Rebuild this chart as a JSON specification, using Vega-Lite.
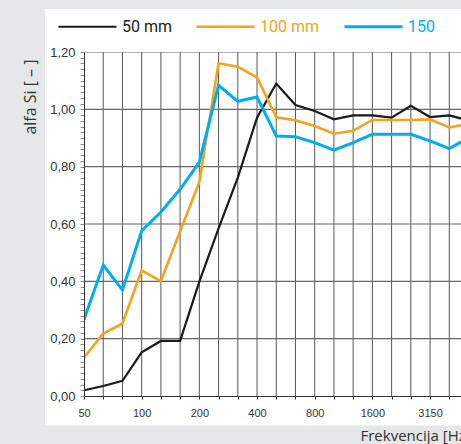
{
  "$schema": "https://vega.github.io/schema/vega-lite/v6.json",
  "width": 377,
  "height": 344,
  "autosize": {"type": "none"},
  "padding": {"left": 84, "top": 52, "right": 0, "bottom": 48},
  "background": "#e6e7e8",
  "config": {
    "view": {"stroke": null},
    "axisX": {
      "grid": false,
      "domainColor": "#333333",
      "tickColor": "#333333",
      "tickSize": 3,
      "labelFont": "Liberation Sans",
      "labelFontSize": 11,
      "labelColor": "#333333",
      "labelPadding": 8,
      "labelFlush": false,
      "titleFont": "Open Sans",
      "titleFontSize": 15,
      "titleFontWeight": "normal",
      "titleColor": "#333333",
      "titleAnchor": "start",
      "titleAlign": "left",
      "titleX": 276,
      "titleY": 39,
      "titleBaseline": "middle"
    },
    "axisY": {
      "grid": false,
      "domainColor": "#333333",
      "tickColor": "#888888",
      "tickSize": 4,
      "labelFont": "Liberation Sans",
      "labelFontSize": 13,
      "labelColor": "#333333",
      "labelPadding": 5,
      "labelFlush": false,
      "titleFont": "Open Sans",
      "titleFontSize": 16,
      "titleFontWeight": "normal",
      "titleColor": "#333333",
      "titleAngle": -90,
      "titleAlign": "right",
      "titleBaseline": "middle",
      "titleX": -54,
      "titleY": 7
    }
  },
  "datasets": {
    "series": [
      {"i": 0, "band": "50", "thickness": "50 mm", "alfa": 0.02},
      {"i": 1, "band": "63", "thickness": "50 mm", "alfa": 0.035},
      {"i": 2, "band": "80", "thickness": "50 mm", "alfa": 0.053},
      {"i": 3, "band": "100", "thickness": "50 mm", "alfa": 0.152},
      {"i": 4, "band": "125", "thickness": "50 mm", "alfa": 0.192},
      {"i": 5, "band": "160", "thickness": "50 mm", "alfa": 0.192},
      {"i": 6, "band": "200", "thickness": "50 mm", "alfa": 0.399},
      {"i": 7, "band": "250", "thickness": "50 mm", "alfa": 0.585},
      {"i": 8, "band": "315", "thickness": "50 mm", "alfa": 0.762},
      {"i": 9, "band": "400", "thickness": "50 mm", "alfa": 0.971},
      {"i": 10, "band": "500", "thickness": "50 mm", "alfa": 1.09},
      {"i": 11, "band": "630", "thickness": "50 mm", "alfa": 1.015},
      {"i": 12, "band": "800", "thickness": "50 mm", "alfa": 0.994},
      {"i": 13, "band": "1000", "thickness": "50 mm", "alfa": 0.965},
      {"i": 14, "band": "1250", "thickness": "50 mm", "alfa": 0.979},
      {"i": 15, "band": "1600", "thickness": "50 mm", "alfa": 0.979},
      {"i": 16, "band": "2000", "thickness": "50 mm", "alfa": 0.971},
      {"i": 17, "band": "2500", "thickness": "50 mm", "alfa": 1.012},
      {"i": 18, "band": "3150", "thickness": "50 mm", "alfa": 0.973},
      {"i": 19, "band": "4000", "thickness": "50 mm", "alfa": 0.979},
      {"i": 20, "band": "5000", "thickness": "50 mm", "alfa": 0.961},
      {"i": 0, "band": "50", "thickness": "100 mm", "alfa": 0.134},
      {"i": 1, "band": "63", "thickness": "100 mm", "alfa": 0.218},
      {"i": 2, "band": "80", "thickness": "100 mm", "alfa": 0.253},
      {"i": 3, "band": "100", "thickness": "100 mm", "alfa": 0.438},
      {"i": 4, "band": "125", "thickness": "100 mm", "alfa": 0.401},
      {"i": 5, "band": "160", "thickness": "100 mm", "alfa": 0.575},
      {"i": 6, "band": "200", "thickness": "100 mm", "alfa": 0.747},
      {"i": 7, "band": "250", "thickness": "100 mm", "alfa": 1.161},
      {"i": 8, "band": "315", "thickness": "100 mm", "alfa": 1.149},
      {"i": 9, "band": "400", "thickness": "100 mm", "alfa": 1.111},
      {"i": 10, "band": "500", "thickness": "100 mm", "alfa": 0.972},
      {"i": 11, "band": "630", "thickness": "100 mm", "alfa": 0.962},
      {"i": 12, "band": "800", "thickness": "100 mm", "alfa": 0.942},
      {"i": 13, "band": "1000", "thickness": "100 mm", "alfa": 0.915},
      {"i": 14, "band": "1250", "thickness": "100 mm", "alfa": 0.925},
      {"i": 15, "band": "1600", "thickness": "100 mm", "alfa": 0.963},
      {"i": 16, "band": "2000", "thickness": "100 mm", "alfa": 0.963},
      {"i": 17, "band": "2500", "thickness": "100 mm", "alfa": 0.963},
      {"i": 18, "band": "3150", "thickness": "100 mm", "alfa": 0.965},
      {"i": 19, "band": "4000", "thickness": "100 mm", "alfa": 0.937},
      {"i": 20, "band": "5000", "thickness": "100 mm", "alfa": 0.949},
      {"i": 0, "band": "50", "thickness": "150", "alfa": 0.267},
      {"i": 1, "band": "63", "thickness": "150", "alfa": 0.457},
      {"i": 2, "band": "80", "thickness": "150", "alfa": 0.37},
      {"i": 3, "band": "100", "thickness": "150", "alfa": 0.576},
      {"i": 4, "band": "125", "thickness": "150", "alfa": 0.642},
      {"i": 5, "band": "160", "thickness": "150", "alfa": 0.721},
      {"i": 6, "band": "200", "thickness": "150", "alfa": 0.816},
      {"i": 7, "band": "250", "thickness": "150", "alfa": 1.084},
      {"i": 8, "band": "315", "thickness": "150", "alfa": 1.028},
      {"i": 9, "band": "400", "thickness": "150", "alfa": 1.043},
      {"i": 10, "band": "500", "thickness": "150", "alfa": 0.907},
      {"i": 11, "band": "630", "thickness": "150", "alfa": 0.904},
      {"i": 12, "band": "800", "thickness": "150", "alfa": 0.884},
      {"i": 13, "band": "1000", "thickness": "150", "alfa": 0.858},
      {"i": 14, "band": "1250", "thickness": "150", "alfa": 0.884},
      {"i": 15, "band": "1600", "thickness": "150", "alfa": 0.913},
      {"i": 16, "band": "2000", "thickness": "150", "alfa": 0.913},
      {"i": 17, "band": "2500", "thickness": "150", "alfa": 0.913},
      {"i": 18, "band": "3150", "thickness": "150", "alfa": 0.89},
      {"i": 19, "band": "4000", "thickness": "150", "alfa": 0.863},
      {"i": 20, "band": "5000", "thickness": "150", "alfa": 0.901}
    ],
    "levels": [
      {"alfa": 0.2}, {"alfa": 0.4}, {"alfa": 0.6}, {"alfa": 0.8}, {"alfa": 1.0}, {"alfa": 1.2}
    ]
  },
  "encoding": {
    "x": {
      "type": "quantitative",
      "title": "Frekvencija [Hz]",
      "scale": {"domain": [0, 19.61], "nice": false, "zero": false},
      "axis": {
        "zindex": 1,
        "labelOverlap": false,
        "values": [0, 1, 2, 3, 4, 5, 6, 7, 8, 9, 10, 11, 12, 13, 14, 15, 16, 17, 18, 19],
        "labelExpr": "['50','','','100','','','200','','','400','','','800','','','1600','','','3150','',''][datum.value]"
      }
    },
    "y": {
      "type": "quantitative",
      "title": "alfa Si [ – ]",
      "scale": {"domain": [0, 1.2], "nice": false},
      "axis": {
        "zindex": 1,
        "labelOverlap": false,
        "values": [0, 0.02, 0.04, 0.06, 0.08, 0.1, 0.12, 0.14, 0.16, 0.18, 0.2, 0.22, 0.24, 0.26, 0.28, 0.3, 0.32, 0.34, 0.36, 0.38, 0.4, 0.42, 0.44, 0.46, 0.48, 0.5, 0.52, 0.54, 0.56, 0.58, 0.6, 0.62, 0.64, 0.66, 0.68, 0.7, 0.72, 0.74, 0.76, 0.78, 0.8, 0.82, 0.84, 0.86, 0.88, 0.9, 0.92, 0.94, 0.96, 0.98, 1.0, 1.02, 1.04, 1.06, 1.08, 1.1, 1.12, 1.14, 1.16, 1.18, 1.2],
        "labelExpr": "abs(datum.value * 5 - round(datum.value * 5)) < 0.001 ? replace(format(datum.value, '.2f'), '.', ',') : ''"
      }
    }
  },
  "layer": [
    {
      "data": {"values": [{}]},
      "mark": {"type": "rect", "fill": "#ffffff", "clip": false},
      "encoding": {
        "x": {"datum": -2.03, "type": "quantitative"},
        "x2": {"datum": 22},
        "y": {"datum": -0.1025, "type": "quantitative"},
        "y2": {"datum": 1.35}
      }
    },
    {
      "data": {"name": "series"},
      "transform": [{"filter": "datum.thickness === '50 mm' && datum.i > 0"}],
      "mark": {"type": "rule", "stroke": "#555555", "strokeWidth": 1, "clip": true},
      "encoding": {
        "x": {"field": "i", "type": "quantitative"},
        "y": {"datum": 0, "type": "quantitative"},
        "y2": {"datum": 1.2}
      }
    },
    {
      "data": {"name": "levels"},
      "mark": {"type": "rule", "stroke": "#666666", "strokeWidth": 1.2, "clip": true},
      "encoding": {
        "y": {"field": "alfa", "type": "quantitative"},
        "x": {"datum": 0, "type": "quantitative"},
        "x2": {"datum": 22}
      }
    },
    {
      "data": {"name": "series"},
      "mark": {"type": "line", "clip": true, "strokeJoin": "miter"},
      "encoding": {
        "x": {"field": "i", "type": "quantitative"},
        "y": {"field": "alfa", "type": "quantitative"},
        "color": {
          "field": "thickness",
          "type": "nominal",
          "scale": {"domain": ["50 mm", "100 mm", "150"], "range": ["#1a1a1a", "#f7a21b", "#00aeef"]},
          "legend": {
            "orient": "none",
            "legendX": -27,
            "legendY": -56,
            "direction": "horizontal",
            "title": null,
            "symbolType": "stroke",
            "symbolSize": 3364,
            "symbolStrokeWidth": 7,
            "labelFont": "Roboto",
            "labelFontSize": 16,
            "labelOffset": 4,
            "columnPadding": 18,
            "padding": 0,
            "encode": {
              "labels": {"update": {"fill": {"scale": "color", "field": "value"}}},
              "symbols": {"enter": {"strokeWidth": {"value": 7}}, "update": {"strokeWidth": {"value": 7}}}
            }
          }
        },
        "strokeWidth": {
          "field": "thickness",
          "type": "nominal",
          "scale": {"domain": ["50 mm", "100 mm", "150"], "range": [2.2, 3, 3]},
          "legend": null
        }
      }
    }
  ]
}
